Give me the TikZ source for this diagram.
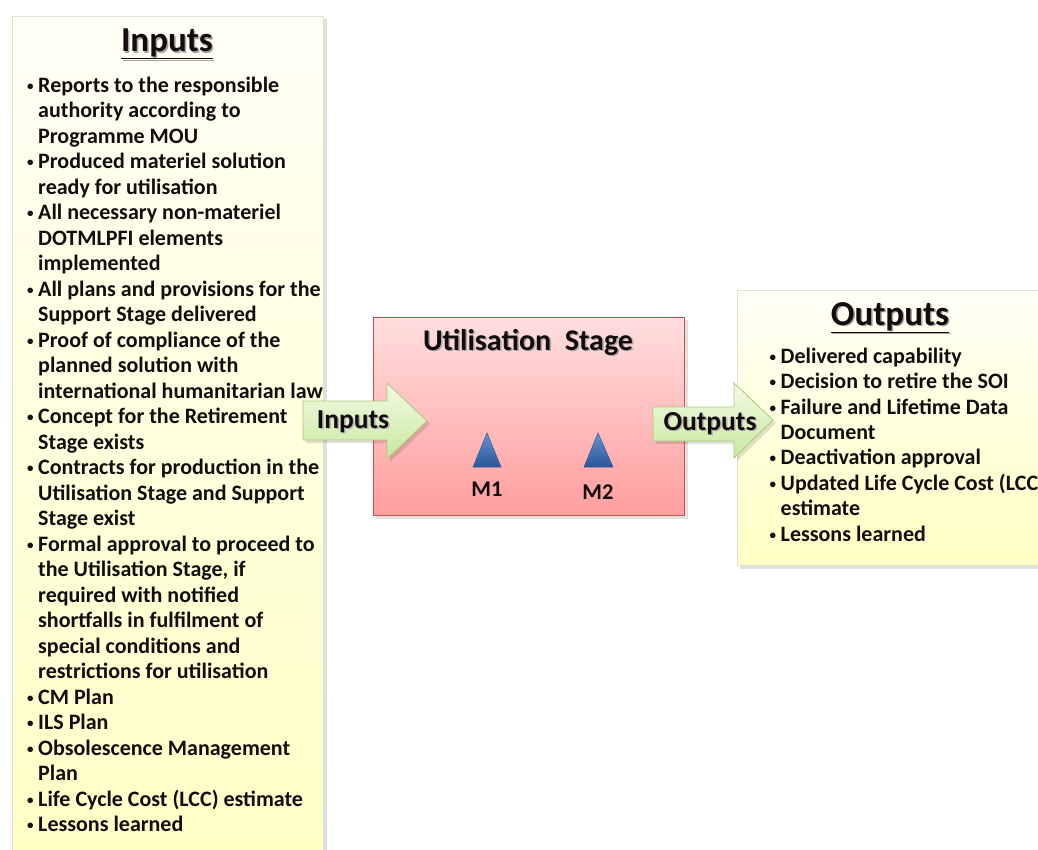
\documentclass[tikz,border=0pt]{standalone}
\usepackage{fontspec}
\setmainfont{Carlito}
\tikzset{
  x=1pt,y=-1pt,
  panel/.style={top color=panelTop,bottom color=panelBot,draw=panelEdge,line width=0.6pt},
  shadowbox/.style={fill=black,opacity=0.12},
  stagebox/.style={top color=stageTop,bottom color=stageBot,draw=stageEdge,line width=0.8pt},
  blockarrow/.style={top color=arrTop,bottom color=arrBot,draw=arrEdge,line width=0.8pt},
  milestone/.style={top color=msTop,bottom color=msBot,draw=msEdge,line width=0.5pt},
  txt/.style={inner sep=0pt,text=txtcol,font=\bfseries},
}
\definecolor{panelTop}{RGB}{255,255,246}
\definecolor{panelBot}{RGB}{255,255,196}
\definecolor{panelEdge}{RGB}{225,225,210}
\definecolor{stageTop}{RGB}{255,222,222}
\definecolor{stageBot}{RGB}{255,158,158}
\definecolor{stageEdge}{RGB}{200,80,77}
\definecolor{arrTop}{RGB}{242,251,228}
\definecolor{arrBot}{RGB}{200,232,160}
\definecolor{arrEdge}{RGB}{170,200,120}
\definecolor{msTop}{RGB}{100,150,215}
\definecolor{msBot}{RGB}{40,85,150}
\definecolor{msEdge}{RGB}{50,90,150}
\definecolor{txtcol}{RGB}{20,12,12}
\newcommand\mybul{\makebox[11.5pt][l]{\hspace{0.5pt}\raisebox{2pt}{\fontsize{13}{13}\selectfont•}}}
\newcommand\bl[1]{\hbox{\mybul#1}}
\newcommand\cl[1]{\hbox{\hspace{11.5pt}#1}}
\begin{document}
\begin{tikzpicture}
\useasboundingbox (0,0) rectangle (1038,850);
\clip (0,0) rectangle (1038,850);
\fill[white] (0,0) rectangle (1038,850);

% left panel
\fill[shadowbox] (15,19) rectangle (327,880);
\shade[panel] (12,16) rectangle (323,880);
\node[txt,text=black!35,anchor=base,font=\bfseries\fontsize{35}{35}\selectfont] at (168.5,53.2) {\underline{Inputs}};
\node[txt,anchor=base,font=\bfseries\fontsize{35}{35}\selectfont] (intitle) at (167,51.7) {\underline{Inputs}};
\node[txt,anchor=base west,font=\bfseries\fontsize{22}{25.5}\selectfont] (inlist) at (26.5,92.5) {\vtop{%
\bl{Reports to the responsible}
\cl{authority according to}
\cl{Programme MOU}
\bl{Produced materiel solution}
\cl{ready for utilisation}
\bl{All necessary non-materiel}
\cl{DOTMLPFI elements}
\cl{implemented}
\bl{All plans and provisions for the}
\cl{Support Stage delivered}
\bl{Proof of compliance of the}
\cl{planned solution with}
\cl{international humanitarian law}
\bl{Concept for the Retirement}
\cl{Stage exists}
\bl{Contracts for production in the}
\cl{Utilisation Stage and Support}
\cl{Stage exist}
\bl{Formal approval to proceed to}
\cl{the Utilisation Stage, if}
\cl{required with notified}
\cl{shortfalls in fulfilment of}
\cl{special conditions and}
\cl{restrictions for utilisation}
\bl{CM Plan}
\bl{ILS Plan}
\bl{Obsolescence Management}
\cl{Plan}
\bl{Life Cycle Cost (LCC) estimate}
\bl{Lessons learned}}};

% stage box
\fill[shadowbox] (376,320) rectangle (688,519);
\shade[stagebox] (373,317) rectangle (684,515);
\node[txt,text=black!35,anchor=base,font=\bfseries\fontsize{30}{30}\selectfont] at (529.5,351.5) {Utilisation\ \ Stage};
\node[txt,anchor=base,font=\bfseries\fontsize{30}{30}\selectfont] (stage) at (528,350) {Utilisation\ \ Stage};

% milestones
\shade[milestone] (487,433) -- (501,467) -- (473,467) -- cycle;
\shade[milestone] (598,433) -- (613,467) -- (584,467) -- cycle;
\node[txt,anchor=base,font=\bfseries\fontsize{22.5}{22.5}\selectfont] (m1) at (487,496.5) {M1};
\node[txt,anchor=base,font=\bfseries\fontsize{22.5}{22.5}\selectfont] (m2) at (598,499) {M2};

% right panel
\fill[shadowbox] (740,293) rectangle (1060,569);
\shade[panel] (737,290) rectangle (1060,565);
\node[txt,text=black!35,anchor=base,font=\bfseries\fontsize{35}{35}\selectfont] at (891.5,326.5) {\underline{Outputs}};
\node[txt,anchor=base,font=\bfseries\fontsize{35}{35}\selectfont] (outtitle) at (890,325) {\underline{Outputs}};
\node[txt,anchor=base west,font=\bfseries\fontsize{22}{25.4}\selectfont] (outlist) at (769,363.3) {\vtop{%
\bl{Delivered capability}
\bl{Decision to retire the SOI}
\bl{Failure and Lifetime Data}
\cl{Document}
\bl{Deactivation approval}
\bl{Updated Life Cycle Cost (LCC)}
\cl{estimate}
\bl{Lessons learned}}};

% input arrow
\fill[shadowbox] (306,404) -- (390,404) -- (390,386) -- (430,424) -- (390,462) -- (390,443) -- (306,443) -- cycle;
\shade[blockarrow] (303,401) -- (387,401) -- (387,383) -- (427,421) -- (387,459) -- (387,440) -- (303,440) -- cycle;
\node[txt,text=black!30,anchor=base,font=\bfseries\fontsize{27.5}{27.5}\selectfont] at (354.5,429.5) {Inputs};
\node[txt,anchor=base,font=\bfseries\fontsize{27.5}{27.5}\selectfont] (inarrow) at (353,428) {Inputs};

% output arrow
\fill[shadowbox] (656,410) -- (737,410) -- (737,386) -- (776,423) -- (737,461) -- (737,444) -- (656,444) -- cycle;
\shade[blockarrow] (653,407) -- (734,407) -- (734,383) -- (773,420) -- (734,458) -- (734,441) -- (653,441) -- cycle;
\node[txt,text=black!30,anchor=base,font=\bfseries\fontsize{27.5}{27.5}\selectfont] at (711.5,431.5) {Outputs};
\node[txt,anchor=base,font=\bfseries\fontsize{27.5}{27.5}\selectfont] (outarrow) at (710,430) {Outputs};
\end{tikzpicture}
\end{document}
